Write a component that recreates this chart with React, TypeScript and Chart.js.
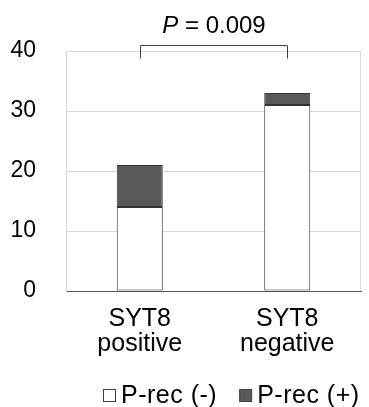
import { useEffect, useRef } from "react";
import { Chart, registerables } from "chart.js";

Chart.register(...registerables);

const FONT = '"Liberation Sans", Arial, Helvetica, sans-serif';

const categories = [
  ["SYT8", "positive"],
  ["SYT8", "negative"],
];
const seriesNames = ["P-rec (-)", "P-rec (+)"];
const precNegative = [14, 31];
const precPositive = [7, 2];
const yMin = 0;
const yMax = 40;
const yStep = 10;
const pValueLabel = "P";
const pValueRest = " = 0.009";

const fillColors = ["#ffffff", "#595959"];

const overlayPlugin = {
  id: "overlay",
  afterDraw(chart: any) {
    const { ctx, chartArea, scales } = chart;
    const xs = scales.x;
    ctx.save();
    // right frame line
    ctx.strokeStyle = "#d9d9d9";
    ctx.lineWidth = 1;
    const rx = Math.round(chartArea.right) - 0.5;
    ctx.beginPath();
    ctx.moveTo(rx, chartArea.top);
    ctx.lineTo(rx, chartArea.bottom);
    ctx.stroke();

    // significance bracket
    const x0 = Math.round(xs.getPixelForValue(0)) + 0.5;
    const x1 = Math.round(xs.getPixelForValue(1)) + 0.5;
    const yb = Math.round(chartArea.top) - 6 + 0.5;
    ctx.strokeStyle = "#404040";
    ctx.beginPath();
    ctx.moveTo(x0, yb + 13);
    ctx.lineTo(x0, yb);
    ctx.lineTo(x1, yb);
    ctx.lineTo(x1, yb + 13);
    ctx.stroke();

    // P value text
    const mid = (x0 + x1) / 2;
    ctx.fillStyle = "#000";
    ctx.textBaseline = "alphabetic";
    ctx.textAlign = "left";
    ctx.font = `italic 24px ${FONT}`;
    const wP = ctx.measureText(pValueLabel).width;
    ctx.font = `24px ${FONT}`;
    const wR = ctx.measureText(pValueRest).width;
    const start = mid - (wP + wR) / 2;
    const baseY = yb - 13;
    ctx.font = `italic 24px ${FONT}`;
    ctx.fillText(pValueLabel, start, baseY);
    ctx.font = `24px ${FONT}`;
    ctx.fillText(pValueRest, start + wP, baseY);

    // legend
    const boxBottom = chartArea.bottom + 110;
    let lx = chartArea.left + 37;
    ctx.font = `25px ${FONT}`;
    try {
      (ctx as any).letterSpacing = "0.5px";
    } catch (e) {}
    chart.data.datasets.forEach((ds: any) => {
      const bs = 12;
      ctx.fillStyle = ds.backgroundColor;
      ctx.fillRect(lx + 0.5, boxBottom - bs + 0.5, bs, bs);
      ctx.strokeStyle = "#404040";
      ctx.lineWidth = 1;
      ctx.strokeRect(lx + 0.5, boxBottom - bs + 0.5, bs, bs);
      ctx.fillStyle = "#000";
      ctx.fillText(ds.label, lx + bs + 6, boxBottom + 2);
      const tw = ctx.measureText(ds.label).width;
      lx += bs + 6 + tw + 22;
    });
    ctx.restore();
  },
};

export default function App() {
  const ref = useRef<HTMLCanvasElement | null>(null);
  useEffect(() => {
    if (!ref.current) return;
    const chart = new Chart(ref.current, {
      type: "bar",
      data: {
        labels: categories,
        datasets: [
          {
            label: seriesNames[0],
            data: precNegative,
            backgroundColor: fillColors[0],
            borderColor: "#333333",
            borderWidth: 1,
            borderSkipped: false,
          },
          {
            label: seriesNames[1],
            data: precPositive,
            backgroundColor: fillColors[1],
            borderColor: "#333333",
            borderWidth: 1,
            borderSkipped: false,
          },
        ],
      },
      options: {
        responsive: false,
        animation: false,
        layout: { padding: { top: 51, left: 10, right: 8, bottom: 0 } },
        plugins: {
          legend: { display: false },
          tooltip: { enabled: false },
          title: { display: false },
        },
        datasets: {
          bar: { categoryPercentage: 1, barPercentage: 0.312 },
        },
        scales: {
          x: {
            stacked: true,
            grid: { display: false, drawTicks: false },
            border: { display: true, color: "#595959", width: 1 },
            ticks: {
              color: "#000",
              font: { family: FONT, size: 25, lineHeight: 1.0 },
              padding: 16,
              maxRotation: 0,
            },
            afterFit(scale: any) {
              scale.height = 116;
            },
          },
          y: {
            stacked: true,
            min: yMin,
            max: yMax,
            grid: { color: "#d9d9d9", lineWidth: 1, drawTicks: false },
            border: { display: true, color: "#d9d9d9", width: 1 },
            ticks: {
              stepSize: yStep,
              color: "#000",
              font: { family: FONT, size: 23 },
              padding: 30,
            },
            afterFit(scale: any) {
              scale.width = 56;
            },
          },
        },
      },
      plugins: [overlayPlugin],
    });
    return () => chart.destroy();
  }, []);
  return (
    <div style={{ position: "fixed", left: 0, top: 0, width: 369, height: 407, background: "#fff" }}>
      <canvas ref={ref} width={369} height={407} style={{ width: 369, height: 407 }} />
    </div>
  );
}
